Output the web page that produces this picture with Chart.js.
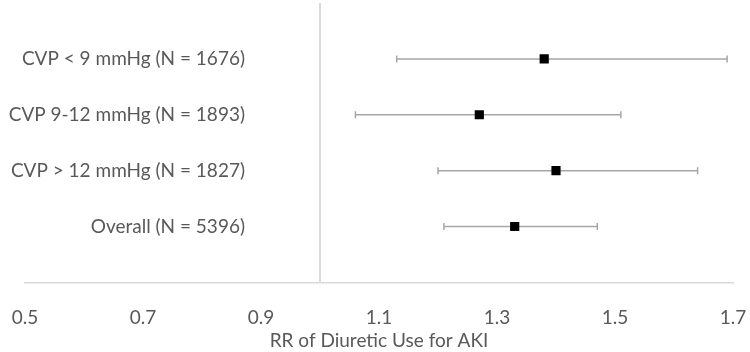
<!DOCTYPE html>
<html lang="en">
<head>
    <meta charset="UTF-8">
    <title>RR of Diuretic Use for AKI</title>
    <script src="https://cdn.jsdelivr.net/npm/chart.js"></script>
    <style>
        html, body { margin: 0; padding: 0; background: #fff; }
        #wrap { width: 750px; height: 352px; }
    </style>
</head>
<body>
    <div id="wrap"><canvas id="chart"></canvas></div>

    <script>
        // rows from bottom to top
        const categories = ['Overall (N = 5396)', 'CVP > 12 mmHg (N = 1827)', 'CVP 9-12 mmHg (N = 1893)', 'CVP < 9 mmHg (N = 1676)'];
        const rr = [1.33, 1.40, 1.27, 1.38];
        const lower = [1.21, 1.20, 1.06, 1.13];
        const upper = [1.47, 1.64, 1.51, 1.69];
        const refValue = 1.0;
        const xMin = 0.5, xMax = 1.7, xStep = 0.2;

        const textColor = '#595959';
        const fontFamily = 'Lato, "Open Sans", sans-serif';
        const fontSize = 19;
        const labelFont = { family: fontFamily, size: fontSize };

        // widest label, so the mirrored labels end just left of the reference line
        const probe = document.createElement('canvas').getContext('2d');
        probe.font = fontSize + 'px ' + fontFamily;
        const widest = Math.max(...categories.map(c => probe.measureText(c).width));
        const labelRight = 220;

        const errorBars = {
            id: 'errorBars',
            beforeDatasetsDraw(chart) {
                const ctx = chart.ctx;
                const xs = chart.scales.x, ys = chart.scales.y;
                ctx.save();
                ctx.strokeStyle = '#a6a6a6';
                ctx.lineWidth = 1.5;
                rr.forEach((v, i) => {
                    const y = ys.getPixelForValue(i + 1);
                    const x1 = xs.getPixelForValue(lower[i]);
                    const x2 = xs.getPixelForValue(upper[i]);
                    ctx.beginPath();
                    ctx.moveTo(x1, y); ctx.lineTo(x2, y);
                    ctx.moveTo(x1, y - 3.5); ctx.lineTo(x1, y + 3.5);
                    ctx.moveTo(x2, y - 3.5); ctx.lineTo(x2, y + 3.5);
                    ctx.stroke();
                });
                ctx.restore();
            }
        };

        new Chart('chart', {
            type: 'scatter',
            data: {
                datasets: [{
                    label: 'Reference',
                    type: 'line',
                    data: [{x: refValue, y: 0}, {x: refValue, y: categories.length + 1}],
                    borderColor: '#d9d9d9',
                    borderWidth: 2,
                    pointRadius: 0,
                    fill: false
                }, {
                    label: 'RR',
                    data: rr.map((v, i) => ({x: v, y: i + 1})),
                    pointStyle: 'rect',
                    pointRadius: 6.5,
                    backgroundColor: '#000',
                    borderColor: '#000',
                    borderWidth: 0
                }]
            },
            options: {
                responsive: true,
                maintainAspectRatio: false,
                animation: false,
                layout: { autoPadding: false, padding: { left: 25, right: 17, top: 3, bottom: 0 } },
                plugins: {
                    legend: { display: false },
                    tooltip: { enabled: false }
                },
                scales: {
                    x: {
                        type: 'linear',
                        min: xMin,
                        max: xMax,
                        grid: { display: false, drawTicks: true, tickLength: 24 },
                        border: { display: true, color: '#d9d9d9', width: 1.5 },
                        ticks: {
                            stepSize: xStep,
                            color: textColor,
                            font: labelFont,
                            padding: 0,
                            callback: v => v.toFixed(1)
                        },
                        title: {
                            display: true,
                            text: 'RR of Diuretic Use for AKI',
                            color: textColor,
                            font: labelFont,
                            padding: { top: 0, bottom: 0 }
                        },
                        afterFit: s => {
                            s.paddingLeft = 0;
                            s.paddingRight = 0;
                        }
                    },
                    y: {
                        type: 'linear',
                        min: 0,
                        max: categories.length + 1,
                        grid: { display: false, drawTicks: false },
                        border: { display: false },
                        ticks: {
                            stepSize: 1,
                            mirror: true,
                            crossAlign: 'far',
                            padding: labelRight - widest,
                            color: textColor,
                            font: labelFont,
                            callback: v => categories[v - 1] || ''
                        },
                        afterFit: s => {
                            s.width = 0;
                            s.paddingTop = 0;
                            s.paddingBottom = 0;
                        }
                    }
                }
            },
            plugins: [errorBars]
        });
    </script>
</body>
</html>
